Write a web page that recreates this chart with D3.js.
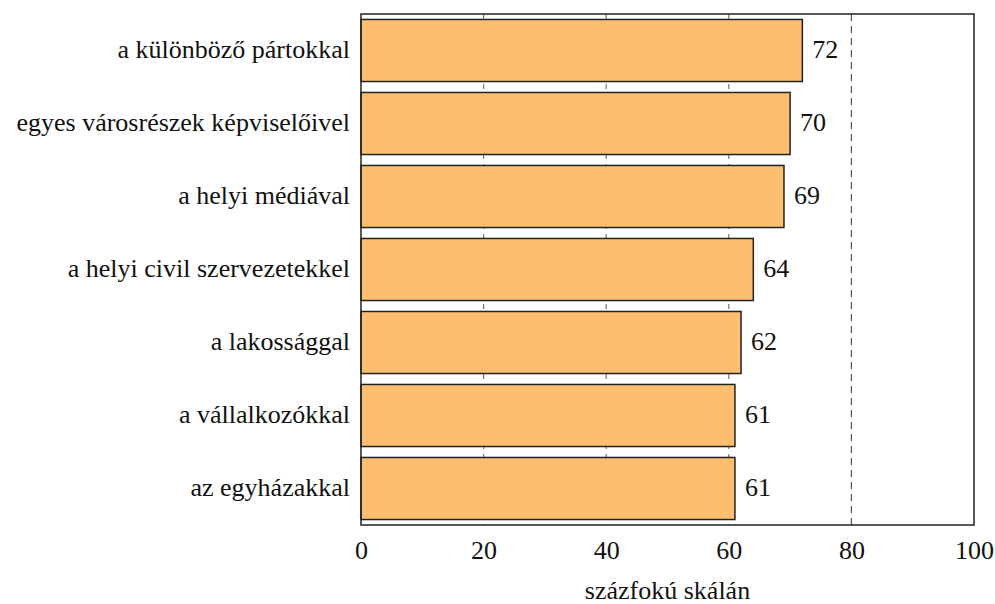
<!DOCTYPE html>
<html><head><meta charset="utf-8">
<script src="https://cdn.jsdelivr.net/npm/d3@7"></script>
</head><body>
<script>
const categories = ["a különböző pártokkal","egyes városrészek képviselőivel","a helyi médiával","a helyi civil szervezetekkel","a lakossággal","a vállalkozókkal","az egyházakkal"];
const values = [72,70,69,64,62,61,61];
const ticks = [0,20,40,60,80,100];
const gridTicks = [20,40,60];
const refLine = 80;
const axisTitle = "százfokú skálán";

d3.select("body").style("margin","0").style("background","#fff");
const W=995,H=604;
const m={left:361,right:21,top:14,bottom:79};
const FONT="Liberation Serif";
const svg=d3.select("body").append("svg").attr("width",W).attr("height",H).style("display","block");
const x=d3.scaleLinear().domain([0,100]).range([m.left,W-m.right]);
const y=d3.scaleBand().domain(categories).range([m.top,H-m.bottom]).paddingInner(0.15).paddingOuter(0.075);
const fs=26;

// gridlines
svg.append("g").selectAll("line").data(gridTicks).join("line")
 .attr("x1",d=>x(d)).attr("x2",d=>x(d)).attr("y1",m.top).attr("y2",H-m.bottom)
 .attr("stroke","#777").attr("stroke-width",1.2).attr("stroke-dasharray","5,5");
svg.append("line").attr("x1",x(refLine)).attr("x2",x(refLine)).attr("y1",m.top).attr("y2",H-m.bottom)
 .attr("stroke","#555").attr("stroke-width",1.2).attr("stroke-dasharray","7,5");

svg.append("g").selectAll("rect").data(values).join("rect")
 .attr("x",x(0)).attr("y",(d,i)=>y(categories[i])).attr("width",d=>x(d)-x(0)).attr("height",y.bandwidth())
 .attr("fill","#fdbf6f").attr("stroke","#222").attr("stroke-width",1.5);

svg.append("g").selectAll("text").data(values).join("text")
 .attr("x",d=>x(d)+10).attr("y",(d,i)=>y(categories[i])+y.bandwidth()/2).attr("dy","0.3em")
 .attr("font-size",fs).attr("font-family",FONT).attr("fill","#111").text(d=>d);

svg.append("g").selectAll("text").data(categories).join("text")
 .attr("x",m.left-11).attr("y",d=>y(d)+y.bandwidth()/2).attr("dy","0.3em").attr("text-anchor","end")
 .attr("font-size",fs).attr("font-family",FONT).attr("fill","#111").text(d=>d);

// frame
svg.append("rect").attr("x",m.left).attr("y",m.top).attr("width",x(100)-m.left).attr("height",H-m.bottom-m.top)
 .attr("fill","none").attr("stroke","#222").attr("stroke-width",1.5);

const ax=svg.append("g").attr("transform",`translate(0,${H-m.bottom})`)
 .call(d3.axisBottom(x).tickValues(ticks).tickSize(0).tickPadding(16));
ax.select(".domain").remove();
ax.attr("font-family",FONT).attr("font-size",fs);
ax.selectAll("text").attr("font-size",fs).attr("font-family",FONT).attr("fill","#111");

svg.append("text").attr("x",(x(0)+x(100))/2).attr("y",599).attr("text-anchor","middle")
 .attr("font-size",fs).attr("font-family",FONT).attr("fill","#111").text(axisTitle);
</script>
</body></html>
